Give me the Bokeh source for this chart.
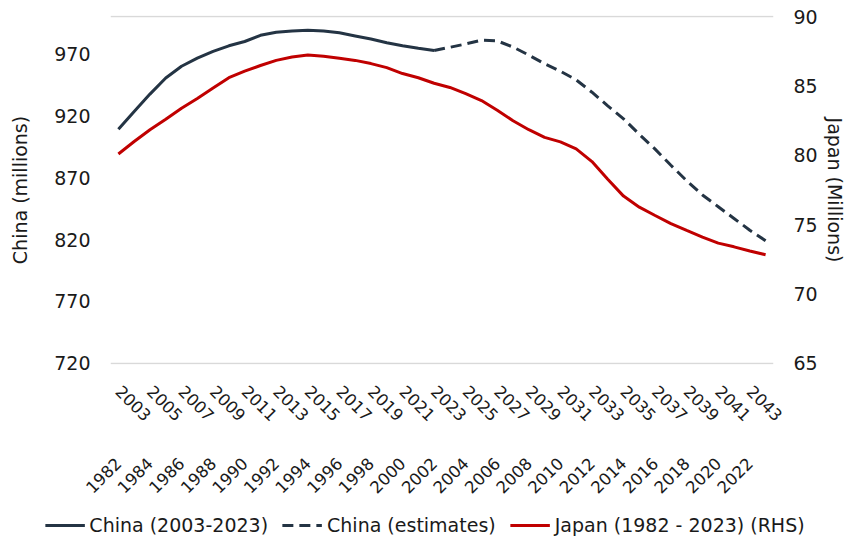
import math
from bokeh.plotting import figure
from bokeh.layouts import column, row
from bokeh.models import Range1d, LinearAxis, FixedTicker, Legend, LegendItem, ColumnDataSource
from bokeh.embed import file_html
from bokeh.resources import INLINE

# ---------------- data ----------------
china_years = list(range(2003, 2045))          # 42 positions shared with Japan
japan_years = list(range(1982, 2024))

china_actual = [909, 923.5, 937.5, 950.5, 960, 966.5, 972, 976.5, 980, 985,
                987.5, 988.5, 989, 988.5, 987, 984.5, 982, 979, 976.5, 974.5, 972.7]   # 2003-2023
china_est = [972.7, 975.3, 978, 981, 980.5, 975.5, 969, 962, 956, 949, 939,
             928, 917.5, 905, 893, 880, 867.5, 856, 846.5, 837, 827.5, 819]          # 2023-2044
japan = [80.1, 81.0, 81.85, 82.6, 83.4, 84.1, 84.85, 85.6, 86.07, 86.48,
         86.85, 87.1, 87.24, 87.15, 87.0, 86.85, 86.62, 86.33, 85.9, 85.6,
         85.2, 84.9, 84.45, 83.95, 83.25, 82.5, 81.85, 81.3, 80.97, 80.47,
         79.55, 78.27, 77.06, 76.26, 75.66, 75.07, 74.58, 74.1, 73.67, 73.4,
         73.1, 72.83]                                                                   # 1982-2023

china_tick_labels = ["2003", "2005", "2007", "2009", "2011", "2013", "2015", "2017", "2019", "2021",
                     "2023", "2025", "2027", "2029", "2031", "2033", "2035", "2037", "2039", "2041", "2043"]
japan_tick_labels = ["1982", "1984", "1986", "1988", "1990", "1992", "1994", "1996", "1998", "2000",
                     "2002", "2004", "2006", "2008", "2010", "2012", "2014", "2016", "2018", "2020", "2022"]
left_ticks = [720, 770, 820, 870, 920, 970]
right_ticks = [65, 70, 75, 80, 85, 90]
LEFT_MIN, LEFT_MAX = 720, 1000
RIGHT_MIN, RIGHT_MAX = 65, 90

left_title = "China (millions)"
right_title = "Japan (Millions)"
legend_labels = ["China (2003-2023)", "China (estimates)", "Japan (1982 - 2023) (RHS)"]

# ---------------- styling ----------------
FONT = "DejaVu Sans"
TXT = "#1a1a1a"
NAVY = "#243444"
RED = "#c00000"
GRID = "#d9d9d9"
PAD = 1.0                                   # small range padding so edge gridlines show
PAD_R = PAD * (RIGHT_MAX - RIGHT_MIN) / (LEFT_MAX - LEFT_MIN)

n = len(china_years)
x_all = list(range(n))
actual_x = x_all[:len(china_actual)]
est_start = len(china_actual) - 1
est_x = x_all[est_start:est_start + len(china_est)]
tick_pos = x_all[::2]

MAIN_W, MAIN_H = 849, 510

p = figure(width=MAIN_W, height=MAIN_H, output_backend="svg", toolbar_location=None,
           x_range=Range1d(-0.5, n - 0.5), y_range=Range1d(LEFT_MIN - PAD, LEFT_MAX + PAD),
           x_axis_location=None,
           min_border_left=110, min_border_right=76, min_border_top=15, min_border_bottom=146)
p.outline_line_color = None
p.background_fill_color = "white"
p.border_fill_color = "white"
p.xgrid.visible = False
p.ygrid.ticker = FixedTicker(ticks=[LEFT_MIN, LEFT_MAX])
p.ygrid.grid_line_color = GRID
p.ygrid.grid_line_width = 1.5

p.extra_y_ranges = {"jp": Range1d(RIGHT_MIN - PAD_R, RIGHT_MAX + PAD_R)}

def style_axis(ax, size="19px"):
    ax.axis_line_color = None
    ax.major_tick_line_color = None
    ax.minor_tick_line_color = None
    ax.major_tick_out = 0
    ax.major_tick_in = 0
    ax.minor_tick_out = 0
    ax.minor_tick_in = 0
    ax.major_label_text_font = FONT
    ax.major_label_text_font_size = size
    ax.major_label_text_color = TXT
    ax.axis_label_text_font = FONT
    ax.axis_label_text_font_size = "19px"
    ax.axis_label_text_font_style = "normal"
    ax.axis_label_text_color = TXT

ly = p.yaxis[0]
ly.ticker = FixedTicker(ticks=left_ticks)
ly.axis_label = left_title
style_axis(ly)
ly.major_label_standoff = 20
ly.axis_label_standoff = 20

ry = LinearAxis(y_range_name="jp", ticker=FixedTicker(ticks=right_ticks), axis_label=right_title)
style_axis(ry)
ry.axis_label_text_font_size = "19px"
ry.major_label_standoff = 20
ry.axis_label_standoff = 3
p.add_layout(ry, "right")

ax1 = LinearAxis(ticker=FixedTicker(ticks=tick_pos),
                 major_label_overrides={t: lab for t, lab in zip(tick_pos, china_tick_labels)},
                 major_label_orientation=-math.pi / 4)
style_axis(ax1, "16.5px")
ax1.major_label_standoff = 24
p.add_layout(ax1, "below")

ax2 = LinearAxis(ticker=FixedTicker(ticks=tick_pos),
                 major_label_overrides={t: lab for t, lab in zip(tick_pos, japan_tick_labels)},
                 major_label_orientation=math.pi / 4)
style_axis(ax2, "16.5px")
ax2.major_label_standoff = 31
p.add_layout(ax2, "below")

src_a = ColumnDataSource(dict(x=actual_x, y=china_actual))
src_e = ColumnDataSource(dict(x=est_x, y=china_est))
src_j = ColumnDataSource(dict(x=x_all, y=japan))

p.line("x", "y", source=src_a, line_color=NAVY, line_width=3)
p.line("x", "y", source=src_e, line_color=NAVY, line_width=3, line_dash="11 6")
p.line("x", "y", source=src_j, line_color=RED, line_width=3, y_range_name="jp")

# ---- legend strip (legend keys only; their dummy points sit outside the view) ----
lfig = figure(width=849, height=29, output_backend="svg", toolbar_location=None,
              x_range=Range1d(0, 1), y_range=Range1d(0, 1),
              x_axis_location=None, y_axis_location=None, min_border=0)
lfig.outline_line_color = None
lfig.grid.visible = False
off = dict(x=[-5, -4], y=[-5, -4])
k_a = lfig.line(x=off["x"], y=off["y"], line_color=NAVY, line_width=3)
k_e = lfig.line(x=off["x"], y=off["y"], line_color=NAVY, line_width=3, line_dash="11 6")
k_j = lfig.line(x=off["x"], y=off["y"], line_color=RED, line_width=3)
legend = Legend(items=[LegendItem(label=legend_labels[0], renderers=[k_a]),
                       LegendItem(label=legend_labels[1], renderers=[k_e]),
                       LegendItem(label=legend_labels[2], renderers=[k_j])],
                orientation="horizontal", location="center")
legend.label_text_font = FONT
legend.label_text_font_size = "19px"
legend.label_text_color = TXT
legend.border_line_color = None
legend.background_fill_alpha = 0
legend.glyph_width = 40
legend.label_standoff = 5
legend.spacing = 14
legend.padding = 0
legend.margin = 0
lfig.add_layout(legend, "center")

layout = column(row(p), lfig)
open("out.html", "w").write(file_html(layout, INLINE))
